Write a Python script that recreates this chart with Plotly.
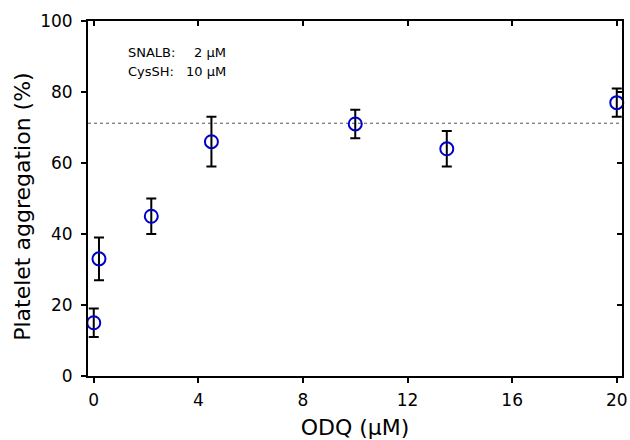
import plotly.graph_objects as go

odq = [0, 0.2, 2.2, 4.5, 10, 13.5, 20]
aggregation = [15, 33, 45, 66, 71, 64, 77]
err = [4, 6, 5, 7, 4, 5, 4]
control_level = 71.2
x_ticks = [0, 4, 8, 12, 16, 20]
y_ticks = [0, 20, 40, 60, 80, 100]
x_range = [-0.22, 20.2]
y_range = [0, 100]

FONT = "DejaVu Sans"

fig = go.Figure()
fig.add_trace(go.Scatter(
    x=x_range, y=[control_level, control_level], mode="lines",
    line=dict(color="#555555", width=1, dash="dot"), hoverinfo="skip", showlegend=False))
fig.add_trace(go.Scatter(
    x=odq, y=aggregation, mode="markers",
    marker=dict(symbol="circle-open", size=13, color="#0000c8", line=dict(width=2, color="#0000c8")),
    error_y=dict(type="data", array=err, color="black", thickness=2, width=5),
    showlegend=False, cliponaxis=False))
# invisible trace for the inside-tick mirror axes
fig.add_trace(go.Scatter(x=[10], y=[50], xaxis="x2", yaxis="y2", mode="markers",
                         marker=dict(opacity=0), hoverinfo="skip", showlegend=False))

axis_common = dict(showgrid=False, zeroline=False, ticklen=5, tickwidth=2, tickcolor="black",
                   automargin=False)

fig.update_layout(
    width=630, height=440,
    margin=dict(l=88, r=8, t=21, b=64),
    paper_bgcolor="white", plot_bgcolor="white",
    font=dict(family=FONT, color="black"),
    xaxis=dict(range=x_range, tickvals=x_ticks, ticks="outside",
               showline=True, linewidth=2, linecolor="black", mirror=True,
               tickfont=dict(size=17, family=FONT), ticklabelstandoff=3,
               title=dict(text="ODQ (µM)", font=dict(size=22, family=FONT), standoff=12),
               **axis_common),
    yaxis=dict(range=y_range, tickvals=y_ticks, ticks="outside",
               showline=True, linewidth=2, linecolor="black", mirror=True,
               tickfont=dict(size=17, family=FONT), ticklabelstandoff=5,
               **axis_common),
    xaxis2=dict(overlaying="x", anchor="y2", side="top", range=x_range, tickvals=x_ticks, ticks="inside",
                showline=False, showticklabels=False, **axis_common),
    yaxis2=dict(overlaying="y", anchor="x2", side="right", range=y_range, tickvals=y_ticks, ticks="inside",
                showline=False, showticklabels=False, **axis_common),
)

# y-axis title (placed as rotated text, slightly below the axis centre as in the original)
fig.add_annotation(x=-0.124, y=0.476, xref="paper", yref="paper", text="Platelet aggregation (%)",
                   textangle=-90, showarrow=False, xanchor="center", yanchor="middle",
                   font=dict(size=22, family=FONT, color="black"))

ann_font = dict(size=13, family=FONT, color="black")
fig.add_annotation(x=1.25, y=91.2, text="SNALB:", showarrow=False, xanchor="left", font=ann_font)
fig.add_annotation(x=5.15, y=91.2, text="2 µM", showarrow=False, xanchor="right", font=ann_font)
fig.add_annotation(x=1.25, y=85.8, text="CysSH:", showarrow=False, xanchor="left", font=ann_font)
fig.add_annotation(x=5.15, y=85.8, text="10 µM", showarrow=False, xanchor="right", font=ann_font)

fig.write_html("out.html", config={"displayModeBar": False},
               post_script="document.body.style.margin='0';document.body.style.overflow='hidden';")
